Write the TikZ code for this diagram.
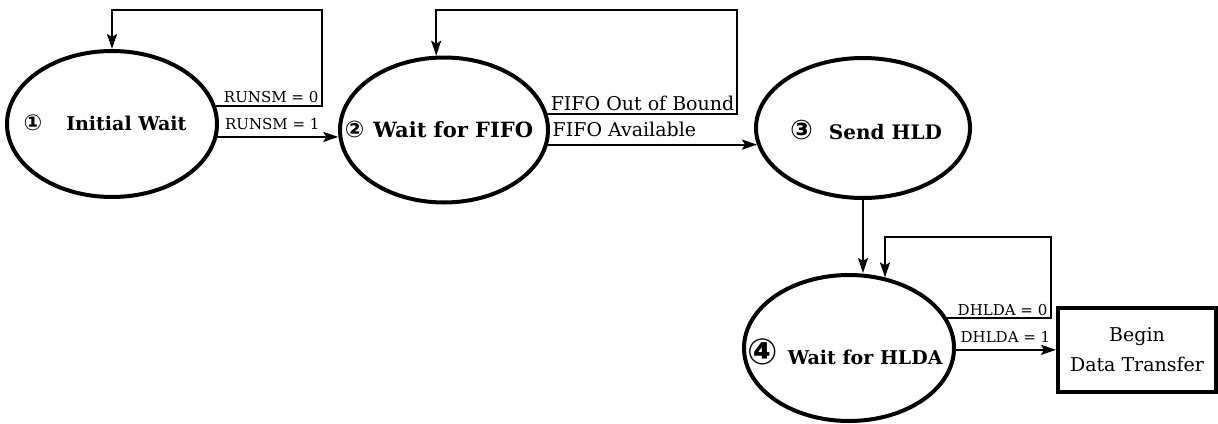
\documentclass[tikz,border=0pt]{standalone}
\usepackage{fontspec}
\setmainfont{DejaVu Serif}
\newfontfamily\circfont{DejaVu Sans}
\usetikzlibrary{shapes.geometric,arrows.meta,calc}
\begin{document}
\begin{tikzpicture}[x=1pt,y=-1pt,
  state/.style={draw, ellipse, line width=4pt, minimum width=210pt, minimum height=146pt, inner sep=0pt},
  stext/.style={inner sep=0pt, font=\bfseries},
  conn/.style={line width=1.9pt, -{Stealth[length=15pt,width=10pt,inset=3pt]}},
  loopline/.style={line width=1.9pt, -{Stealth[length=15pt,width=10pt,inset=3pt]}},
  small/.style={font=\fontsize{15}{17}\selectfont, inner sep=1.5pt},
  big/.style={font=\fontsize{19}{21}\selectfont, inner sep=1.5pt},
  endbox/.style={draw, line width=4pt, minimum width=158pt, minimum height=84pt, align=center, font=\fontsize{19}{30}\selectfont}
]
\useasboundingbox (0,0) rectangle (1218,423);
\newcommand{\cnum}[2]{{\circfont\fontsize{#1}{#1}\selectfont #2}}

\node[state] (e1) at (112,124) {};
\node[state, minimum width=208pt, minimum height=145pt] (e2) at (444,130) {};
\node[state, minimum width=214pt, minimum height=140pt] (e3) at (863,128) {};
\node[state] (e4) at (849,348) {};
\node[endbox] (b) at (1137,350) {Begin\\Data Transfer};

\node[stext] (t1) at (105,123) {\cnum{22}{①}\hspace{24pt}\fontsize{19}{22}\selectfont Initial Wait};
\node[stext] (t2) at (439,129) {\cnum{23}{②}\hspace{9pt}\fontsize{21}{24}\selectfont Wait for FIFO};
\node[stext] (t3) at (866,130) {\cnum{27}{③}\hspace{16pt}\fontsize{20}{23}\selectfont Send HLD};
\node[stext] (t4) at (845,352) {\cnum{36}{④}\hspace{10pt}\fontsize{19}{22}\selectfont Wait for HLDA};

\coordinate (c1) at (322,10);
\coordinate (c2) at (737,10);
\coordinate (c4) at (1051,237);

% loop 1
\draw[loopline] (e1.10) -| (c1) -| (e1.north);
\coordinate (k1) at (e1.10 -| c1);
\node[small, anchor=south east] (l1) at ($(k1)+(-2,-1)$) {RUNSM = 0};
% 1 -> 2
\draw[conn] (e1.-7) -- (e1.-7 -| e2.183);
\node[small, anchor=south west] (l2) at ($(e1.-7)+(6,-6)$) {RUNSM = 1};

% loop 2
\draw[loopline] (e2.9) -| (c2) -| (e2.96);
\coordinate (k2) at (e2.9 -| c2);
\node[big, anchor=south east] (l3) at ($(k2)+(-1,-1)$) {FIFO Out of Bound};
% 2 -> 3
\draw[conn] (e2.-8.4) -- (e2.-8.4 -| e3.189);
\node[big, anchor=south west] (l4) at ($(e2.-8.4)+(3,-6)$) {FIFO Available};

% 3 -> 4
\draw[conn] (e3.south) -- (e3.south |- e4.north);

% loop 4
\draw[loopline] (e4.17.4) -| (c4) -| (e4.63);
\coordinate (k4) at (e4.17.4 -| c4);
\node[small, anchor=south east] (l5) at ($(k4)+(-2,-1)$) {DHLDA = 0};
% 4 -> box
\draw[conn] (e4.-1) -- (e4.-1 -| b.west);
\node[small, anchor=south west] (l6) at ($(e4.-1)+(3,-6)$) {DHLDA = 1};
\end{tikzpicture}
\end{document}
